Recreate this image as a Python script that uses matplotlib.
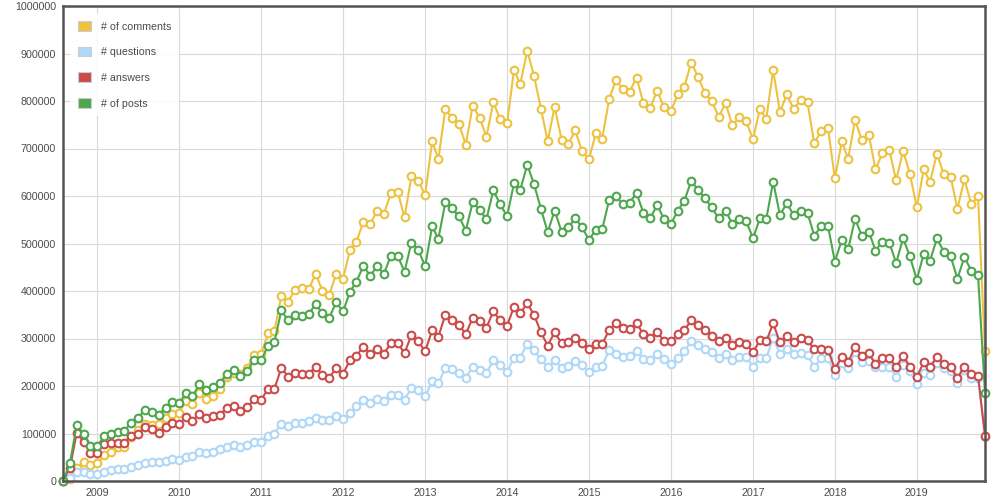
import pandas as pd
import matplotlib
matplotlib.use("Agg")
import matplotlib.pyplot as plt
import matplotlib.dates as mdates
from matplotlib.patches import Patch
from matplotlib.ticker import FuncFormatter, MultipleLocator

# monthly values (thousands), Aug 2008 .. Nov 2019
comments = [0, 4, 27, 40, 33, 37, 55, 62, 72, 72, 92, 107, 120, 118, 119, 132, 141, 144,
            169, 162, 185, 172, 178, 193, 218, 228, 225, 238, 266, 268, 311, 315, 390, 377,
            403, 407, 404, 436, 401, 392, 436, 425, 487, 504, 546, 541, 569, 562, 606, 608,
            555, 642, 632, 602, 715, 678, 783, 764, 751, 708, 790, 764, 725, 797, 762, 753,
            865, 836, 906, 853, 784, 715, 788, 718, 709, 738, 694, 678, 732, 721, 804, 844,
            825, 820, 849, 795, 786, 822, 787, 779, 814, 830, 881, 851, 816, 800, 767, 795,
            749, 766, 757, 720, 783, 762, 865, 777, 814, 783, 802, 797, 711, 737, 744, 637,
            715, 678, 760, 717, 729, 656, 690, 696, 633, 695, 647, 576, 656, 630, 689, 646,
            640, 573, 635, 583, 599, 273]
questions = [0, 6, 18, 18, 15, 15, 20, 23, 25, 26, 30, 34, 37, 39, 39, 42, 46, 44,
             51, 53, 62, 60, 62, 67, 72, 76, 72, 76, 83, 83, 95, 100, 121, 116,
             122, 122, 126, 133, 129, 128, 136, 130, 144, 157, 171, 164, 173, 168, 182, 182,
             171, 196, 191, 178, 210, 206, 238, 236, 227, 217, 241, 233, 227, 254, 245, 229,
             260, 260, 289, 275, 257, 239, 255, 238, 243, 253, 245, 229, 241, 243, 275, 267,
             262, 264, 274, 257, 254, 268, 257, 247, 259, 273, 294, 287, 278, 271, 259, 268,
             255, 262, 262, 241, 259, 259, 301, 268, 278, 268, 269, 266, 240, 258, 260, 223,
             248, 237, 272, 251, 253, 239, 241, 239, 220, 244, 232, 204, 228, 223, 248, 237,
             232, 207, 234, 216, 216, 92]
answers = [0, 28, 101, 82, 60, 60, 78, 79, 81, 81, 95, 100, 113, 109, 102, 113, 123, 120,
           135, 127, 142, 132, 137, 140, 153, 158, 147, 155, 172, 171, 194, 194, 238, 220,
           227, 226, 226, 240, 224, 217, 238, 226, 254, 264, 283, 268, 278, 268, 290, 290,
           269, 308, 294, 273, 317, 304, 350, 339, 329, 309, 344, 337, 323, 357, 338, 327,
           367, 353, 374, 350, 313, 285, 313, 290, 292, 301, 290, 278, 288, 288, 318, 332,
           322, 320, 332, 309, 301, 313, 295, 294, 309, 318, 338, 329, 318, 306, 295, 301,
           287, 292, 288, 271, 296, 294, 332, 292, 306, 292, 302, 297, 277, 278, 276, 236,
           262, 250, 282, 264, 269, 246, 259, 260, 239, 264, 241, 219, 250, 241, 261, 246,
           239, 217, 241, 226, 222, 95]
posts = [0, 37, 118, 99, 74, 74, 95, 99, 104, 105, 123, 133, 149, 145, 140, 154, 167, 164,
         186, 178, 204, 192, 197, 207, 225, 234, 221, 231, 255, 254, 285, 292, 359, 338,
         350, 348, 351, 373, 353, 344, 376, 357, 398, 420, 453, 432, 452, 436, 474, 473,
         441, 502, 487, 452, 536, 510, 587, 574, 557, 527, 587, 571, 551, 612, 583, 557,
         627, 613, 666, 625, 573, 524, 569, 525, 534, 553, 534, 508, 529, 530, 592, 599,
         583, 586, 606, 564, 553, 581, 552, 541, 569, 590, 632, 613, 595, 576, 553, 569,
         541, 552, 548, 511, 553, 551, 630, 560, 585, 560, 569, 565, 516, 537, 537, 462,
         508, 488, 552, 516, 525, 485, 504, 501, 459, 511, 473, 424, 478, 464, 511, 483,
         473, 426, 471, 443, 433, 185]

months = pd.date_range("2008-08-01", periods=len(posts), freq="MS")
labels = ["# of comments", "# questions", "# answers", "# of posts"]
colors = ["#edc240", "#afd8f8", "#cb4b4b", "#4da74d"]

plt.rcParams["font.family"] = ["Liberation Sans", "DejaVu Sans"]

fig = plt.figure(figsize=(9.94, 5.03), dpi=100)
ax = fig.add_axes([63 / 994, 1 - 481 / 503, 922 / 994, 475 / 503])

# draw the series in flot order, posts on top
for series, c in zip([comments, questions, answers, posts], colors):
    vals = [v * 1000 for v in series]
    ax.plot(months, vals, color=c, lw=1.5, marker="o", ms=5.5, mfc="white",
            mec=c, mew=1.5, clip_on=False, zorder=3)

ax.set_xlim(months[0], months[-1])
ax.set_ylim(0, 1000000)
ax.yaxis.set_major_locator(MultipleLocator(100000))
ax.yaxis.set_major_formatter(FuncFormatter(lambda v, p: "%d" % v))
ax.xaxis.set_major_locator(mdates.YearLocator())
ax.xaxis.set_major_formatter(mdates.DateFormatter("%Y"))

ax.grid(True, color="#d9d9d9", lw=0.8)
ax.set_axisbelow(True)
ax.tick_params(length=0, labelsize=7.7, colors="#4c4c4c", pad=5)
for s in ax.spines.values():
    s.set_color("#545454")
    s.set_linewidth(1.8)
    s.set_zorder(5)

# legend boxes like the flot ones
handles = [Patch(facecolor=c, edgecolor="#cccccc", lw=0.8) for c in colors]
leg = ax.legend(handles, labels, loc="upper left", bbox_to_anchor=(0.002, 0.995),
                fontsize=7.7, frameon=True, framealpha=0.85, edgecolor="none",
                fancybox=False, handlelength=1.2, handleheight=1.0,
                labelspacing=1.42, handletextpad=1.0, borderpad=0.7)
for t in leg.get_texts():
    t.set_color("#4c4c4c")

plt.savefig("out.png", dpi=100)
